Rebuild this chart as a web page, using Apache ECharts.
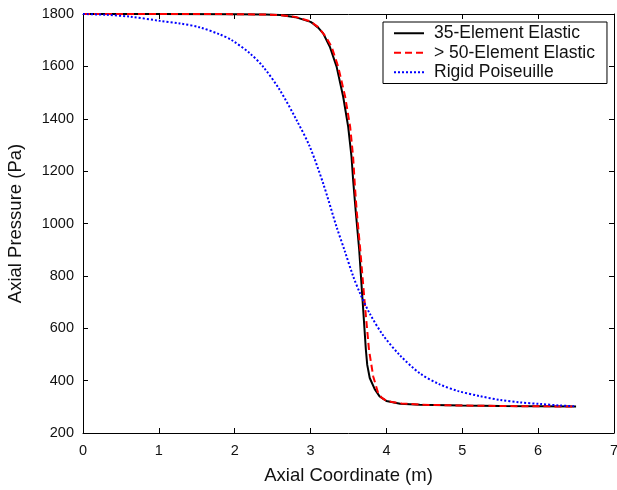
<!DOCTYPE html>
<html>
<head>
<meta charset="utf-8">
<script src="https://cdn.jsdelivr.net/npm/echarts@6/dist/echarts.min.js"></script>
<style>
html,body{margin:0;padding:0;background:#fff;}
#chart{width:617px;height:490px;}
</style>
</head>
<body>
<div id="chart"></div>
<script>
const seriesNames = ['35-Element Elastic', '> 50-Element Elastic', 'Rigid Poiseuille'];

const elastic35X = [0, 1, 2, 2.4, 2.6, 2.8, 3.0, 3.03, 3.1, 3.166, 3.254, 3.343, 3.43, 3.496, 3.54, 3.561, 3.597, 3.641, 3.685, 3.729, 3.747, 3.78, 3.85, 3.91, 4.0, 4.18, 4.44, 5.0, 5.5, 6.0, 6.5];
const elastic35Y = [1800, 1800, 1799.5, 1798, 1796, 1788, 1770, 1764, 1748, 1726, 1675, 1599, 1484, 1369, 1254, 1166, 1041, 900, 709, 518, 460, 410, 365, 340, 322, 312, 308, 305, 303, 302, 301];

const elastic50X = [0, 1, 2, 2.4, 2.6, 2.8, 3.0, 3.1, 3.2, 3.277, 3.364, 3.456, 3.522, 3.561, 3.585, 3.61, 3.655, 3.71, 3.77, 3.826, 3.89, 3.94, 4.0, 4.1, 4.2, 4.44, 5.0, 5.5, 6.0, 6.5];
const elastic50Y = [1800, 1800, 1799.5, 1798, 1796, 1789, 1772, 1750, 1714, 1675, 1599, 1484, 1369, 1254, 1140, 1041, 900, 709, 518, 416, 353, 334, 323, 317, 313, 308, 305, 303, 302, 301];

const rigidX = [0, 0.3, 0.616, 1.012, 1.276, 1.54, 1.803, 1.957, 2.199, 2.374, 2.594, 2.815, 2.99, 3.166, 3.343, 3.452, 3.562, 3.65, 3.782, 3.957, 4.177, 4.44, 4.7, 4.947, 5.23, 5.5, 5.76, 6.02, 6.29, 6.5];
const rigidY = [1800, 1797, 1790, 1774, 1764, 1749, 1722, 1701, 1650, 1599, 1510, 1395, 1293, 1153, 987, 894, 798, 735, 655, 573, 497, 428, 386, 360, 341, 326, 317, 311, 305, 302];

const xMin = 0, xMax = 7, xStep = 1;
const yMin = 200, yMax = 1800, yStep = 200;

function pairs(xs, ys) { return xs.map((x, i) => [x, ys[i]]); }

const FONT = "'Liberation Sans', Arial, Helvetica, sans-serif";
const TXT = '#111';

const chart = echarts.init(document.getElementById('chart'), null, {renderer: 'canvas'});

const baseAxisLine = {show: true, onZero: false, lineStyle: {color: '#000', width: 1}};
const baseTick = {show: true, inside: true, length: 5, lineStyle: {color: '#000', width: 1}};
const plain = v => String(v);

chart.setOption({
  animation: false,
  backgroundColor: '#fff',
  grid: {left: 83, right: 3, top: 14, bottom: 57, containLabel: false, outerBoundsMode: 'none'},
  legend: {
    orient: 'vertical',
    left: 383, top: 22,
    data: seriesNames,
    backgroundColor: '#fff',
    borderColor: '#000',
    borderWidth: 1,
    borderRadius: 0,
    padding: [1.5, 12, 1.5, 10],
    itemWidth: 30,
    itemHeight: 14,
    itemGap: 0,
    itemStyle: {opacity: 0},
    textStyle: {fontFamily: FONT, fontSize: 17.5, color: TXT, lineHeight: 19.5, padding: [0, 0, 0, 5]}
  },
  xAxis: [
    {
      type: 'value', min: xMin, max: xMax, interval: xStep, position: 'bottom',
      name: 'Axial Coordinate (m)', nameLocation: 'middle', nameGap: 33,
      nameTextStyle: {fontFamily: FONT, fontSize: 18.5, color: TXT},
      axisLine: baseAxisLine, axisTick: baseTick,
      axisLabel: {fontFamily: FONT, fontSize: 14.5, color: TXT, margin: 10, formatter: plain},
      splitLine: {show: false}
    },
    {
      type: 'value', min: xMin, max: xMax, interval: xStep, position: 'top',
      axisLine: baseAxisLine, axisTick: baseTick,
      axisLabel: {show: false}, splitLine: {show: false}
    }
  ],
  yAxis: [
    {
      type: 'value', min: yMin, max: yMax, interval: yStep, position: 'left',
      name: 'Axial Pressure (Pa)', nameLocation: 'middle', nameGap: 58,
      nameTextStyle: {fontFamily: FONT, fontSize: 18.5, color: TXT},
      axisLine: baseAxisLine, axisTick: baseTick,
      axisLabel: {fontFamily: FONT, fontSize: 14.5, color: TXT, margin: 9, formatter: plain},
      splitLine: {show: false}
    },
    {
      type: 'value', min: yMin, max: yMax, interval: yStep, position: 'right',
      axisLine: baseAxisLine, axisTick: baseTick,
      axisLabel: {show: false}, splitLine: {show: false}
    }
  ],
  series: [
    {
      name: seriesNames[0], type: 'line', xAxisIndex: 0, yAxisIndex: 0,
      data: pairs(elastic35X, elastic35Y), symbol: 'none', smooth: false,
      lineStyle: {color: '#000000', width: 2, type: 'solid'},
      itemStyle: {color: '#000000'}
    },
    {
      name: seriesNames[1], type: 'line', xAxisIndex: 0, yAxisIndex: 0,
      data: pairs(elastic50X, elastic50Y), symbol: 'none', smooth: false,
      lineStyle: {color: '#ff0000', width: 2, type: [7, 4]},
      itemStyle: {color: '#ff0000'}
    },
    {
      name: seriesNames[2], type: 'line', xAxisIndex: 0, yAxisIndex: 0,
      data: pairs(rigidX, rigidY), symbol: 'none', smooth: 0.3,
      lineStyle: {color: '#0000ff', width: 2, type: [2, 2]},
      itemStyle: {color: '#0000ff'}
    }
  ]
});
</script>
</body>
</html>
